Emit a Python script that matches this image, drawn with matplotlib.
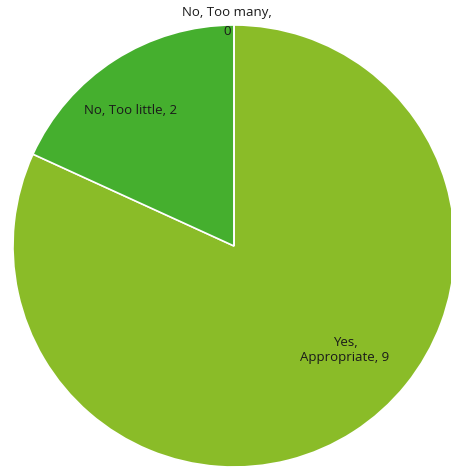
import matplotlib.pyplot as plt

labels = ["Yes,\nAppropriate", "No, Too little", "No, Too many,\n"]
values = [9, 2, 0]
colors = ["#8ABC28", "#45AF2E", "#45AF2E"]

# label anchor points in pixel space (x from left, y from top)
label_px = [(345, 350), (131, 110), (227, 22)]
spacing = [1.3, 1.3, 1.55]

W, H = 451, 467
cx, cy, r = 234, 246, 221

fig = plt.figure(figsize=(W / 100, H / 100), dpi=100)
ax = fig.add_axes([0, 0, 1, 1])
ax.pie(values, colors=colors, startangle=90, counterclock=False,
       radius=r, center=(0, 0),
       wedgeprops=dict(edgecolor="white", linewidth=1.2))
ax.set_xlim(-cx, W - cx)
ax.set_ylim(-(H - cy), cy)
ax.set_aspect("equal")
ax.axis("off")

for lab, val, (px, py), ls in zip(labels, values, label_px, spacing):
    sep = "" if lab.endswith("\n") else ", "
    ax.text(px - cx, cy - py, f"{lab}{sep}{val}", ha="center", va="center",
            fontsize=9.5, family="Open Sans", color="#1a1a1a", linespacing=ls)

fig.savefig("out.png", dpi=100)
